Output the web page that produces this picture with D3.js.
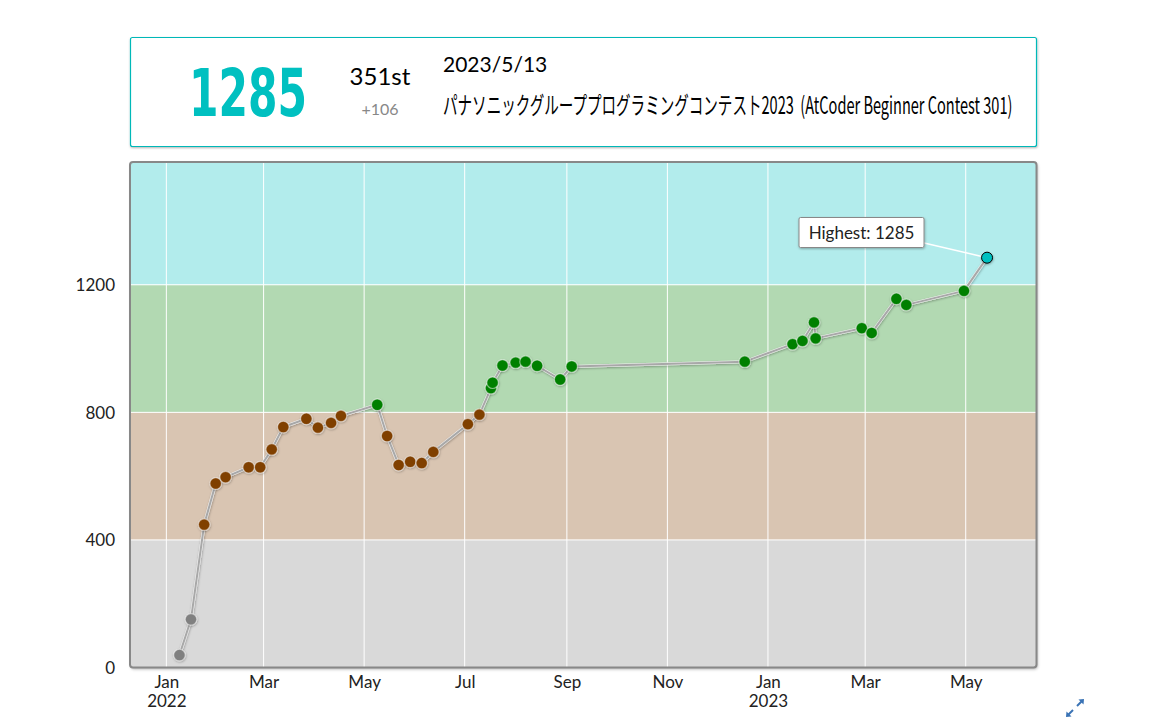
<!DOCTYPE html>
<html>
<head>
<meta charset="utf-8">
<script src="https://cdn.jsdelivr.net/npm/d3@7"></script>
<style>
  html, body { margin: 0; padding: 0; background: #fff; }
  svg { display: block; }
</style>
</head>
<body>
<svg id="chart" width="1150" height="718"></svg>
<script>
// ---------- DATA ----------
const contestDates = [
  "2022-01-08","2022-01-15","2022-01-23","2022-01-30","2022-02-05","2022-02-19","2022-02-26",
  "2022-03-05","2022-03-12","2022-03-26","2022-04-02","2022-04-10","2022-04-16","2022-05-08",
  "2022-05-14","2022-05-21","2022-05-28","2022-06-04","2022-06-11","2022-07-02","2022-07-09",
  "2022-07-16","2022-07-17","2022-07-23","2022-07-31","2022-08-06","2022-08-13","2022-08-27",
  "2022-09-03","2022-12-17","2023-01-15","2023-01-21","2023-01-28","2023-01-29","2023-02-26",
  "2023-03-04","2023-03-19","2023-03-25","2023-04-29","2023-05-13"
];
const ratings = [
  39,151,448,577,597,628,628,
  684,754,780,752,767,789,824,
  726,635,645,641,676,763,793,
  876,893,947,956,959,946,903,
  944,959,1014,1024,1082,1032,1064,
  1049,1156,1137,1181,1285
];
const bandEdges = [0, 400, 800, 1200, 1600];
const bandFill = ["#D9D9D9", "#D9C5B2", "#B2D9B2", "#B2ECEC"];
const pointFill = ["#808080", "#804000", "#008000", "#00C0C0"];
const yTicks = [0, 400, 800, 1200];
const xTickDates = ["2022-01-01","2022-03-01","2022-05-01","2022-07-01","2022-09-01","2022-11-01","2023-01-01","2023-03-01","2023-05-01"];
const xTickMonths = ["Jan","Mar","May","Jul","Sep","Nov","Jan","Mar","May"];
const xTickYears = ["2022","","","","","","2023","",""];
const status = {
  rating: "1285", rank: "351st", diff: "+106", date: "2023/5/13",
  contest: "パナソニックグループプログラミングコンテスト2023\u00A0 (AtCoder Beginner Contest 301)"
};
const highestLabel = "Highest: 1285";

// ---------- HELPERS ----------
const parseDate = s => { const [y,m,d] = s.split("-").map(Number); return new Date(y, m-1, d, 22, 40); };
const parseDay = s => { const [y,m,d] = s.split("-").map(Number); return new Date(y, m-1, d); };
const data = contestDates.map((d, i) => ({ date: parseDate(d), rating: ratings[i] }));
const DAY = 86400000;

const svg = d3.select("#chart");
const defs = svg.append("defs");

const sh = defs.append("filter").attr("id", "shadow").attr("x", "-20%").attr("y", "-20%").attr("width", "140%").attr("height", "140%");
sh.append("feDropShadow").attr("dx", 1).attr("dy", 1.5).attr("stdDeviation", 1.5).attr("flood-color", "#000").attr("flood-opacity", 0.35);
const sh2 = defs.append("filter").attr("id", "pshadow").attr("x", "-50%").attr("y", "-50%").attr("width", "200%").attr("height", "200%");
sh2.append("feDropShadow").attr("dx", 0.5).attr("dy", 1).attr("stdDeviation", 1).attr("flood-color", "#000").attr("flood-opacity", 0.3);

// fit a text horizontally into a given width by scaling (keeps the real glyph box)
function fitText(sel, x0, y0, width) {
  const w = sel.node().getComputedTextLength();
  sel.attr("x", 0).attr("y", 0)
    .attr("transform", `translate(${x0},${y0}) scale(${width / w},1)`);
}

// ---------- STATUS BOX ----------
const sb = svg.append("g");
sb.append("rect").attr("x", 130.5).attr("y", 37.5).attr("width", 906).attr("height", 109)
  .attr("fill", "#fff").attr("stroke", "#00B8B8").attr("stroke-width", 1.2).attr("rx", 2)
  .attr("filter", "url(#pshadow)");
const rt = sb.append("text")
  .attr("font-family", "'Liberation Sans Narrow','DejaVu Sans Condensed','Roboto',sans-serif")
  .attr("font-weight", "bold").attr("font-size", 66).attr("fill", "#00C0C0")
  .text(status.rating);
fitText(rt, 189, 116, 118);
sb.append("text").attr("x", 380).attr("y", 85).attr("text-anchor", "middle")
  .attr("font-family", "Lato, sans-serif").attr("font-size", 24).attr("fill", "#000")
  .text(status.rank);
sb.append("text").attr("x", 380).attr("y", 115).attr("text-anchor", "middle")
  .attr("font-family", "Lato, sans-serif").attr("font-size", 16).attr("fill", "#888")
  .text(status.diff);
sb.append("text").attr("x", 443).attr("y", 72)
  .attr("font-family", "Lato, sans-serif").attr("font-size", 21).attr("fill", "#000")
  .text(status.date);
const ct = sb.append("text")
  .attr("font-family", "'Noto Sans CJK JP', sans-serif").attr("font-size", 24).attr("fill", "#000")
  .style("white-space", "pre")
  .text(status.contest);
fitText(ct, 443, 114, 570);

// ---------- CHART ----------
const L = 130, R = 1036.5, T = 162, B = 667.5;
const x = d3.scaleTime()
  .domain([new Date(data[0].date.getTime() - 30*DAY), new Date(data[data.length-1].date.getTime() + 30*DAY)])
  .range([L, R]);
const y = d3.scaleLinear().domain([0, 1585]).range([B, T]);

const clip = defs.append("clipPath").attr("id", "clip");
clip.append("rect").attr("x", L).attr("y", T).attr("width", R-L).attr("height", B-T);

// panel shadow/background
svg.append("rect").attr("x", L).attr("y", T).attr("width", R-L).attr("height", B-T)
  .attr("rx", 3).attr("fill", "#fff").attr("filter", "url(#shadow)");

const plot = svg.append("g").attr("clip-path", "url(#clip)");
plot.selectAll("rect.band").data(bandFill).join("rect").attr("class", "band")
  .attr("x", L).attr("width", R-L)
  .attr("y", (c, i) => y(bandEdges[i+1]))
  .attr("height", (c, i) => y(bandEdges[i]) - y(bandEdges[i+1]))
  .attr("fill", c => c);

// grid lines
plot.selectAll("line.vg").data(xTickDates).join("line").attr("class", "vg")
  .attr("x1", d => x(parseDay(d))).attr("x2", d => x(parseDay(d)))
  .attr("y1", T).attr("y2", B).attr("stroke", "#fff").attr("stroke-width", 1);
plot.selectAll("line.hg").data(yTicks.slice(1)).join("line").attr("class", "hg")
  .attr("x1", L).attr("x2", R).attr("y1", d => y(d)).attr("y2", d => y(d))
  .attr("stroke", "#fff").attr("stroke-width", 1);

// panel border
svg.append("rect").attr("x", L).attr("y", T).attr("width", R-L).attr("height", B-T)
  .attr("rx", 3).attr("fill", "none").attr("stroke", "#888").attr("stroke-width", 2);

// axes labels
const xAxis = d3.axisBottom(x).tickValues(xTickDates.map(parseDay)).tickSize(0).tickPadding(0)
  .tickFormat((d, i) => xTickMonths[i]);
const gx = svg.append("g").attr("transform", `translate(0,${B})`).call(xAxis);
gx.select(".domain").remove();
gx.selectAll("text").attr("font-family", "Lato, sans-serif").attr("font-size", 17).attr("fill", "#222").attr("dy", 0).attr("y", 20);
gx.selectAll(".tick").append("text").attr("y", 39).attr("fill", "#222")
  .attr("font-family", "Lato, sans-serif").attr("font-size", 17).attr("text-anchor", "middle")
  .text((d, i) => xTickYears[i]);

const yAxis = d3.axisLeft(y).tickValues(yTicks).tickSize(0).tickPadding(0).tickFormat(d3.format("d"));
const gy = svg.append("g").attr("transform", `translate(115,0)`).call(yAxis);
gy.select(".domain").remove();
gy.selectAll("text").attr("font-family", "Lato, sans-serif").attr("font-size", 17).attr("fill", "#222").attr("x", 0).attr("dy", "0.35em");

// line
const line = d3.line().x(d => x(d.date)).y(d => y(d.rating));
const lg = plot.append("g").attr("filter", "url(#pshadow)");
lg.append("path").datum(data).attr("d", line).attr("fill", "none").attr("stroke", "#f4f4f4").attr("stroke-width", 3).attr("stroke-linejoin", "round");
lg.append("path").datum(data).attr("d", line).attr("fill", "none").attr("stroke", "#A8A8A8").attr("stroke-width", 2).attr("stroke-linejoin", "round");

// highest label connector
const hi = data.reduce((a, b) => b.rating > a.rating ? b : a);
const boxX = 799, boxY = 217.5, boxW = 125, boxH = 30;
plot.append("line").attr("x1", boxX + boxW - 2).attr("y1", boxY + boxH - 5)
  .attr("x2", x(hi.date)).attr("y2", y(hi.rating)).attr("stroke", "#fff").attr("stroke-width", 1.5);

// points
const band = r => Math.min(3, Math.floor(r / 400));
const pts = plot.append("g").attr("filter", "url(#pshadow)");
pts.selectAll("circle").data(data.slice(0, -1)).join("circle")
  .attr("cx", d => x(d.date)).attr("cy", d => y(d.rating)).attr("r", 5.8)
  .attr("fill", d => pointFill[band(d.rating)])
  .attr("stroke", "rgba(255,255,255,0.5)").attr("stroke-width", 1.2);
pts.append("circle").datum(hi)
  .attr("cx", d => x(d.date)).attr("cy", d => y(d.rating)).attr("r", 5.5)
  .attr("fill", d => pointFill[band(d.rating)]).attr("stroke", "#000").attr("stroke-width", 1);

// highest label box
const hb = svg.append("g");
hb.append("rect").attr("x", boxX).attr("y", boxY).attr("width", boxW).attr("height", boxH)
  .attr("fill", "#fff").attr("stroke", "#888").attr("stroke-width", 1).attr("rx", 1.5)
  .attr("filter", "url(#pshadow)");
hb.append("text").attr("x", boxX + boxW/2).attr("y", boxY + 21).attr("text-anchor", "middle")
  .attr("font-family", "Lato, sans-serif").attr("font-size", 17).attr("fill", "#222")
  .text(highestLabel);

// expand icon
const ic = svg.append("g").attr("transform", "translate(1075,708)").attr("fill", "#3A73B5").attr("stroke", "#3A73B5");
ic.append("line").attr("x1", 2).attr("y1", -2).attr("x2", 7).attr("y2", -7).attr("stroke-width", 2);
ic.append("path").attr("d", "M9,-9 L3.5,-8.5 L8.5,-3.5 Z").attr("stroke", "none");
ic.append("line").attr("x1", -2).attr("y1", 2).attr("x2", -7).attr("y2", 7).attr("stroke-width", 2);
ic.append("path").attr("d", "M-9,9 L-3.5,8.5 L-8.5,3.5 Z").attr("stroke", "none");
</script>
</body>
</html>
